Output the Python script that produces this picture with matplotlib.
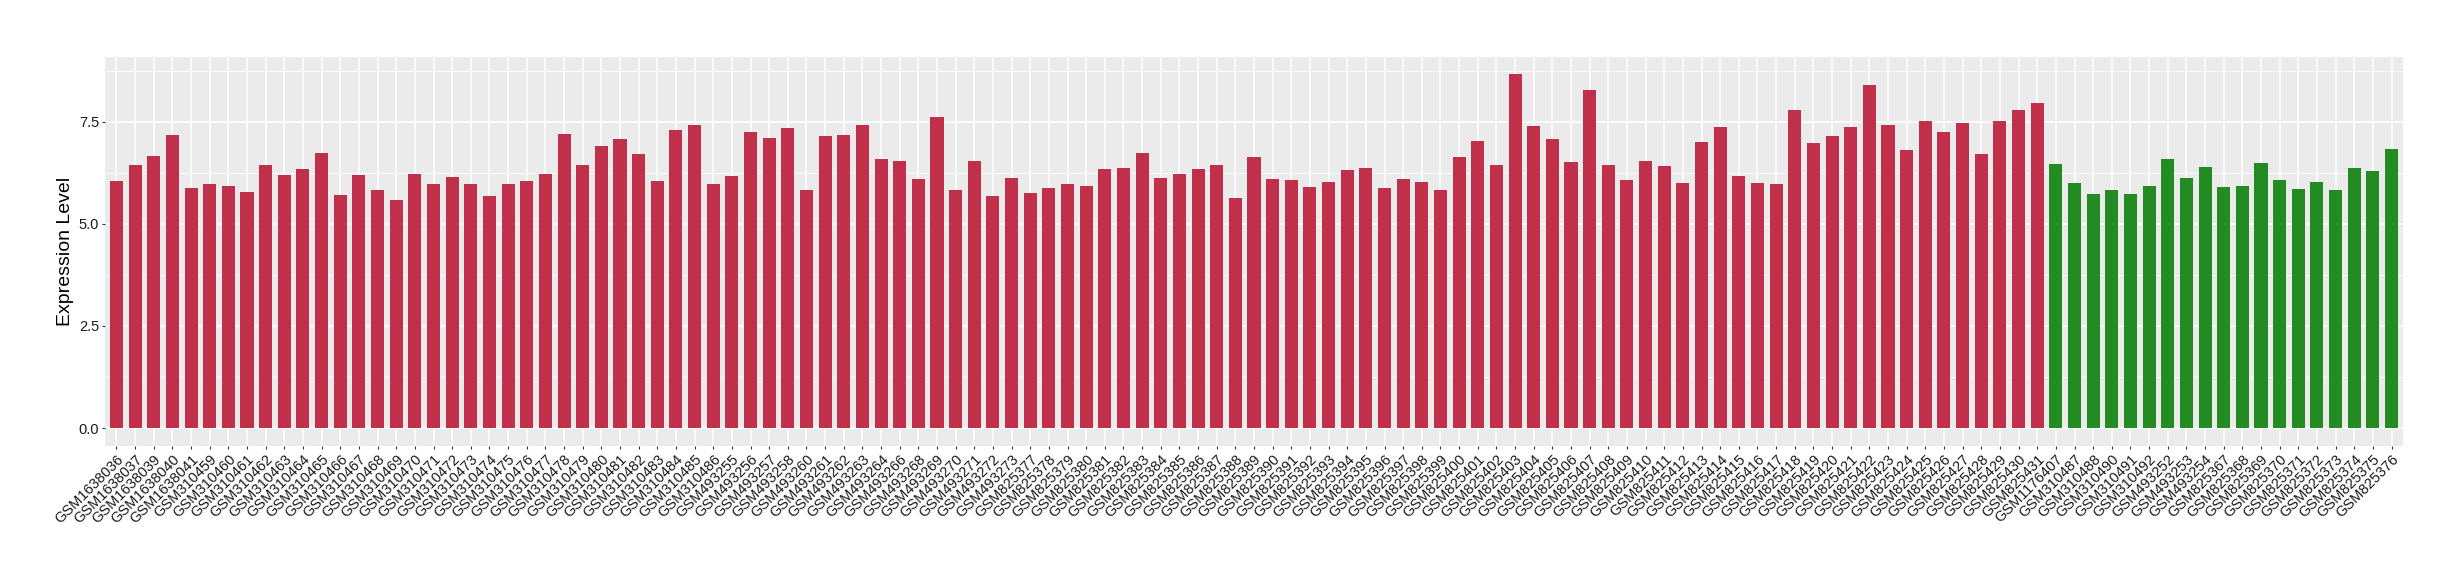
import matplotlib
matplotlib.use('Agg')
import matplotlib.pyplot as plt

plt.rcParams['font.family'] = ['Liberation Sans', 'DejaVu Sans']

# ---- data ----
samples_red = [
    "GSM1638036", "GSM1638037", "GSM1638039", "GSM1638040", "GSM1638041",
    "GSM310459", "GSM310460", "GSM310461", "GSM310462", "GSM310463", "GSM310464",
    "GSM310465", "GSM310466", "GSM310467", "GSM310468", "GSM310469", "GSM310470",
    "GSM310471", "GSM310472", "GSM310473", "GSM310474", "GSM310475", "GSM310476",
    "GSM310477", "GSM310478", "GSM310479", "GSM310480", "GSM310481", "GSM310482",
    "GSM310483", "GSM310484", "GSM310485", "GSM310486",
    "GSM493255", "GSM493256", "GSM493257", "GSM493258", "GSM493260", "GSM493261",
    "GSM493262", "GSM493263", "GSM493264", "GSM493266", "GSM493268", "GSM493269",
    "GSM493270", "GSM493271", "GSM493272", "GSM493273",
    "GSM825377", "GSM825378", "GSM825379", "GSM825380", "GSM825381", "GSM825382",
    "GSM825383", "GSM825384", "GSM825385", "GSM825386", "GSM825387", "GSM825388",
    "GSM825389", "GSM825390", "GSM825391", "GSM825392", "GSM825393", "GSM825394",
    "GSM825395", "GSM825396", "GSM825397", "GSM825398", "GSM825399", "GSM825400",
    "GSM825401", "GSM825402", "GSM825403", "GSM825404", "GSM825405", "GSM825406",
    "GSM825407", "GSM825408", "GSM825409", "GSM825410", "GSM825411", "GSM825412",
    "GSM825413", "GSM825414", "GSM825415", "GSM825416", "GSM825417", "GSM825418",
    "GSM825419", "GSM825420", "GSM825421", "GSM825422", "GSM825423", "GSM825424",
    "GSM825425", "GSM825426", "GSM825427", "GSM825428", "GSM825429", "GSM825430",
    "GSM825431",
]
values_red = [
    6.04, 6.43, 6.65, 7.17, 5.87, 5.97, 5.92, 5.77, 6.43, 6.19,
    6.34, 6.73, 5.70, 6.19, 5.82, 5.58, 6.21, 5.97, 6.14, 5.97,
    5.68, 5.97, 6.04, 6.21, 7.21, 6.43, 6.90, 7.07, 6.70, 6.04,
    7.31, 7.41, 5.97, 6.16, 7.26, 7.09, 7.34, 5.82, 7.14, 7.17,
    7.43, 6.58, 6.53, 6.09, 7.61, 5.82, 6.53, 5.68, 6.12, 5.75,
    5.87, 5.97, 5.92, 6.34, 6.36, 6.73, 6.12, 6.21, 6.34, 6.43,
    5.63, 6.63, 6.09, 6.07, 5.90, 6.02, 6.31, 6.36, 5.87, 6.09,
    6.02, 5.82, 6.63, 7.02, 6.43, 8.66, 7.39, 7.07, 6.51, 8.27,
    6.43, 6.07, 6.53, 6.41, 5.99, 7.00, 7.36, 6.16, 5.99, 5.97,
    7.78, 6.97, 7.14, 7.36, 8.41, 7.41, 6.80, 7.51, 7.24, 7.48,
    6.70, 7.51, 7.80, 7.97,
]
samples_green = [
    "GSM1176407", "GSM310487", "GSM310488", "GSM310490", "GSM310491", "GSM310492",
    "GSM493252", "GSM493253", "GSM493254",
    "GSM825367", "GSM825368", "GSM825369", "GSM825370", "GSM825371", "GSM825372",
    "GSM825373", "GSM825374", "GSM825375", "GSM825376",
]
values_green = [
    6.46, 5.99, 5.74, 5.82, 5.72, 5.93, 6.60, 6.13, 6.39, 5.90,
    5.92, 6.49, 6.08, 5.85, 6.03, 5.84, 6.37, 6.29, 6.83,
]
y_ticks = [0.0, 2.5, 5.0, 7.5]
y_label = "Expression Level"

color_red = "#C1304A"
color_green = "#228B22"

# ---- plot ----
names = samples_red + samples_green
values = values_red + values_green
colors = [color_red] * len(values_red) + [color_green] * len(values_green)
n = len(values)
xs = list(range(n))

W, H = 2460, 580
fig = plt.figure(figsize=(W / 100, H / 100), dpi=100)
left, right, top, bottom = 105.3, 2402.7, 56.7, 445.7
ax = fig.add_axes([left / W, 1 - bottom / H, (right - left) / W, (bottom - top) / H])
ax.set_facecolor("#EBEBEB")

ax.bar(xs, values, width=0.7, color=colors, zorder=3)

ax.set_xlim(-0.6, n - 1 + 0.6)
ymax = max(values)
ax.set_ylim(-0.05 * ymax, ymax * 1.05)

ax.set_yticks(y_ticks)
ax.set_yticklabels([f"{v:.1f}" for v in y_ticks], fontsize=10.5, color="#1A1A1A")
ax.set_yticks([1.25, 3.75, 6.25, 8.75], minor=True)
ax.set_xticks(xs)
ax.set_xticklabels(names, rotation=45, ha="right", va="top",
                   rotation_mode="anchor", fontsize=10.5, color="#1A1A1A")

ax.grid(which="major", color="white", linewidth=1.1, zorder=0)
ax.grid(which="minor", axis="y", color="white", linewidth=0.55, zorder=0)
ax.set_axisbelow(True)
for s in ax.spines.values():
    s.set_visible(False)

ax.tick_params(axis="both", which="major", length=2.5, width=0.8, color="#333333", pad=2)
ax.tick_params(axis="both", which="minor", length=0)

fig.text(65 / W, 1 - 251 / H, y_label, rotation=90, ha="center", va="center",
         fontsize=14, color="black")

fig.savefig("out.png", dpi=100, facecolor="white")
